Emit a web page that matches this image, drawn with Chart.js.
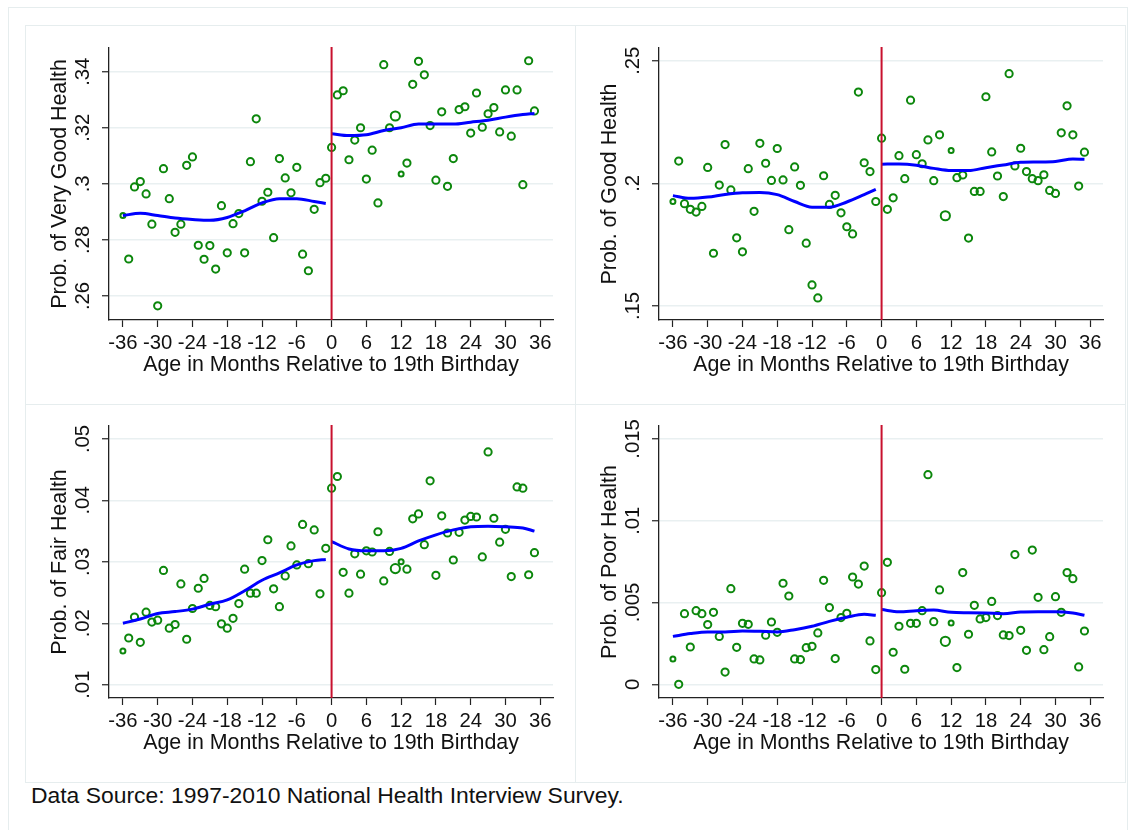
<!DOCTYPE html>
<html>
<head>
<meta charset="utf-8">
<script src="https://cdn.jsdelivr.net/npm/chart.js@4.4.1/dist/chart.umd.min.js"></script>
<style>
body { margin: 0; background: #fff; font-family: "Liberation Sans", Arial, sans-serif; }
#page { position: relative; width: 1135px; height: 830px; overflow: hidden; background: #fff; }
.frame { position: absolute; border: 1.5px solid #e6edee; box-sizing: border-box; }
canvas { position: absolute; }
#caption { position: absolute; left: 31px; top: 784px; font-size: 22.9px; line-height: 22.9px; color: #111; white-space: nowrap; }
</style>
</head>
<body>
<div id="page">
  <div class="frame" style="left:8px;top:7px;width:1120px;height:840px;"></div>
  <div class="frame" style="left:25px;top:25px;width:551px;height:380px;"></div>
  <div class="frame" style="left:575px;top:25px;width:551px;height:380px;"></div>
  <div class="frame" style="left:25px;top:404px;width:551px;height:379px;"></div>
  <div class="frame" style="left:575px;top:404px;width:551px;height:379px;"></div>
  <canvas id="veryGoodChart" width="550" height="379" style="left:25px;top:25px;"></canvas>
  <canvas id="goodChart" width="550" height="379" style="left:575px;top:25px;"></canvas>
  <canvas id="fairChart" width="550" height="379" style="left:25px;top:403px;"></canvas>
  <canvas id="poorChart" width="550" height="379" style="left:575px;top:403px;"></canvas>
  <div id="caption">Data Source: 1997-2010 National Health Interview Survey.</div>
</div>
<script>
// months relative to 19th birthday (one point per month)
const months = [-36,-35,-34,-33,-32,-31,-30,-29,-28,-27,-26,-25,-24,-23,-22,-21,-20,-19,-18,-17,-16,-15,-14,-13,-12,-11,-10,-9,-8,-7,-6,-5,-4,-3,-2,-1,
  0,1,2,3,4,5,6,7,8,9,10,11,12,13,14,15,16,17,18,19,20,21,22,23,24,25,26,27,28,29,30,31,32,33,34,35];

const lineMonthsBefore = [-36,-33,-30,-27,-24,-21,-18,-15,-12,-9,-6,-3,-1];
const lineMonthsAfter = [0,3,6,9,12,15,18,21,24,27,30,33,35];

const xTicks = [-36,-30,-24,-18,-12,-6,0,6,12,18,24,30,36];
const cutoffMonth = 0;
const xTitle = "Age in Months Relative to 19th Birthday";

// --- Very good health ---
const veryGoodPoints = [.2887,.2732,.2989,.3008,.2964,.2856,.2565,.3054,.2947,.2827,.2856,.3066,.3096,.2781,.2731,.2780,.2696,.2922,.2754,.2858,.2894,.2754,.3079,.3232,.2938,.2970,.2808,.3090,.3021,.2968,.3059,.2749,.2690,.2909,.3004,.3020,
  .3130,.3317,.3332,.3086,.3156,.3200,.3017,.3120,.2932,.3425,.3200,.3242,.3035,.3074,.3355,.3437,.3389,.3208,.3013,.3257,.2991,.3090,.3265,.3275,.3181,.3324,.3202,.3250,.3272,.3185,.3335,.3170,.3335,.2997,.3439,.3260];
const veryGoodBefore = [.2887,.2895,.2887,.2878,.2873,.2870,.2880,.2904,.2932,.2947,.2947,.2937,.2930];
const veryGoodAfter = [.3179,.3172,.3175,.3190,.3200,.3213,.3213,.3213,.3220,.3227,.3238,.3247,.3251];
const veryGoodTicks = [.26,.28,.30,.32,.34];

// --- Good health ---
const goodPoints = [.1926,.2091,.1917,.1894,.1883,.1906,.2065,.1715,.1993,.2158,.1973,.1778,.1721,.2060,.1886,.2163,.2082,.2012,.2142,.2014,.1811,.2067,.1992,.1756,.1586,.1533,.2031,.1914,.1951,.1880,.1823,.1794,.2372,.2084,.2048,.1926,
  .2184,.1894,.1941,.2113,.2019,.2339,.2117,.2080,.2177,.2011,.2198,.1868,.2134,.2023,.2034,.1777,.1967,.1967,.2353,.2128,.2030,.1946,.2447,.2071,.2143,.2048,.2019,.2011,.2035,.1971,.1959,.2206,.2316,.2198,.1989,.2127];
const goodBefore = [.1950,.1939,.1944,.1955,.1962,.1963,.1954,.1926,.1903,.1903,.1924,.1954,.1975];
const goodAfter = [.2078,.2079,.2074,.2061,.2052,.2052,.2064,.2075,.2086,.2087,.2089,.2099,.2098];
const goodTicks = [.15,.20,.25];

// --- Fair health ---
const fairPoints = [.0155,.0176,.0210,.0169,.0218,.0202,.0205,.0286,.0192,.0198,.0264,.0174,.0224,.0257,.0273,.0229,.0227,.0199,.0192,.0208,.0232,.0288,.0249,.0249,.0302,.0336,.0256,.0227,.0277,.0326,.0295,.0361,.0297,.0352,.0248,.0322,
  .0420,.0439,.0283,.0249,.0313,.0280,.0318,.0316,.0349,.0269,.0317,.0289,.0300,.0288,.0370,.0378,.0328,.0432,.0278,.0375,.0347,.0303,.0348,.0368,.0374,.0373,.0308,.0479,.0371,.0332,.0353,.0276,.0422,.0420,.0279,.0315];
const fairBefore = [.0200,.0207,.0216,.0219,.0223,.0231,.0238,.0253,.0270,.0282,.0295,.0302,.0304];
const fairAfter = [.0333,.0321,.0318,.0318,.0322,.0334,.0344,.0352,.0357,.0358,.0357,.0355,.0350];
const fairTicks = [.01,.02,.03,.04,.05];

// --- Poor health ---
const poorPoints = [.00155,.0000,.00432,.00228,.00450,.00432,.00365,.00440,.00293,.00075,.00585,.00226,.00373,.00367,.00155,.00149,.00300,.00381,.00318,.00618,.00540,.00155,.00151,.00224,.00232,.00314,.00636,.00469,.00157,.00408,.00434,.00656,.00613,.00723,.00265,.00090,
  .00560,.00746,.00196,.00355,.00092,.00373,.00373,.00450,.01282,.00383,.00577,.00263,.00375,.00102,.00683,.00306,.00483,.00400,.00408,.00507,.00420,.00302,.00298,.00793,.00330,.00208,.00821,.00532,.00212,.00291,.00536,.00440,.00683,.00646,.00106,.00326];
const poorBefore = [.00293,.00310,.00320,.00320,.00326,.00324,.00320,.00334,.00355,.00385,.00410,.00428,.00422];
const poorAfter = [.00457,.00444,.00450,.00454,.00440,.00438,.00436,.00432,.00442,.00444,.00444,.00436,.00422];
const poorTicks = [0,.005,.01,.015];

const FONT = '"Liberation Sans", Arial, Helvetica, sans-serif';
const GREEN = '#0c870c';

// drop the leading zero like Stata does
function fmtTick(v) {
  return String(+v.toFixed(4)).replace(/^0\./, '.');
}

function markerSize(m) {
  if (m === -36 || m === 12) return 2.5;
  if (m === 11) return 4.6;
  return 3.6;
}

const cutoffLine = {
  id: 'cutoffLine',
  afterDatasetsDraw(chart) {
    const { ctx, chartArea, scales } = chart;
    const x = scales.x.getPixelForValue(cutoffMonth);
    ctx.save();
    ctx.strokeStyle = '#c8102e';
    ctx.lineWidth = 2;
    ctx.beginPath();
    ctx.moveTo(x, chartArea.top - 1);
    ctx.lineTo(x, chartArea.bottom);
    ctx.stroke();
    ctx.restore();
  }
};

function makeChart(id, yTitle, points, before, after, ticks, yMin, yMax, tickPad) {
  const ctx = document.getElementById(id).getContext('2d');
  return new Chart(ctx, {
    type: 'scatter',
    data: {
      datasets: [
        {
          data: months.map((m, i) => ({ x: m, y: points[i] })),
          showLine: false,
          pointStyle: 'circle',
          pointRadius: c => markerSize(c.raw ? c.raw.x : 0),
          pointBorderColor: GREEN,
          pointBackgroundColor: 'rgba(0,0,0,0)',
          pointBorderWidth: 2,
          order: 2
        },
        {
          data: lineMonthsBefore.map((m, i) => ({ x: m, y: before[i] })),
          showLine: true,
          borderColor: '#0000ff',
          borderWidth: 3,
          pointRadius: 0,
          cubicInterpolationMode: 'monotone',
          order: 1
        },
        {
          data: lineMonthsAfter.map((m, i) => ({ x: m, y: after[i] })),
          showLine: true,
          borderColor: '#0000ff',
          borderWidth: 3,
          pointRadius: 0,
          cubicInterpolationMode: 'monotone',
          order: 1
        }
      ]
    },
    options: {
      responsive: false,
      animation: false,
      devicePixelRatio: 1,
      layout: { padding: { top: 23, right: 22, left: 0, bottom: 0 } },
      plugins: { legend: { display: false }, tooltip: { enabled: false } },
      scales: {
        x: {
          type: 'linear',
          min: -38.4,
          max: 38.2,
          afterBuildTicks: s => { s.ticks = xTicks.map(v => ({ value: v })); },
          afterFit: s => { s.height = 84; },
          grid: { drawOnChartArea: false, drawTicks: true, tickLength: 7, tickColor: '#222', tickWidth: 1.2 },
          border: { color: '#222', width: 1.3 },
          ticks: { color: '#111', font: { family: FONT, size: 20.3 }, padding: 4, maxRotation: 0, autoSkip: false },
          title: { display: true, text: xTitle, color: '#111', font: { family: FONT, size: 21.4 }, padding: { top: 0, bottom: 26 } }
        },
        y: {
          type: 'linear',
          min: yMin,
          max: yMax,
          afterBuildTicks: s => { s.ticks = ticks.map(v => ({ value: v })); },
          afterFit: s => { s.width = 84; },
          grid: { color: '#e9f0f1', lineWidth: 1.5, drawTicks: true, tickLength: 7, tickColor: '#222', tickWidth: 1.2 },
          border: { color: '#222', width: 1.3 },
          ticks: {
            color: '#111', font: { family: FONT, size: 20.3 }, padding: tickPad,
            minRotation: 90, maxRotation: 90, crossAlign: 'center',
            callback: v => fmtTick(v)
          },
          title: { display: true, text: yTitle, color: '#111', font: { family: FONT, size: 21.4 }, padding: { top: 22, bottom: 0 } }
        }
      }
    },
    plugins: [cutoffLine]
  });
}

makeChart('veryGoodChart', 'Prob. of Very Good Health', veryGoodPoints, veryGoodBefore, veryGoodAfter, veryGoodTicks, .25144, .34845, 4.5);
makeChart('goodChart', 'Prob. of Good Health', goodPoints, goodBefore, goodAfter, goodTicks, .14429, .25518, 4.5);
makeChart('fairChart', 'Prob. of Fair Health', fairPoints, fairBefore, fairAfter, fairTicks, .00783, .05212, 4.5);
makeChart('poorChart', 'Prob. of Poor Health', poorPoints, poorBefore, poorAfter, poorTicks, -.000838, .015795, -1);
</script>
</body>
</html>
